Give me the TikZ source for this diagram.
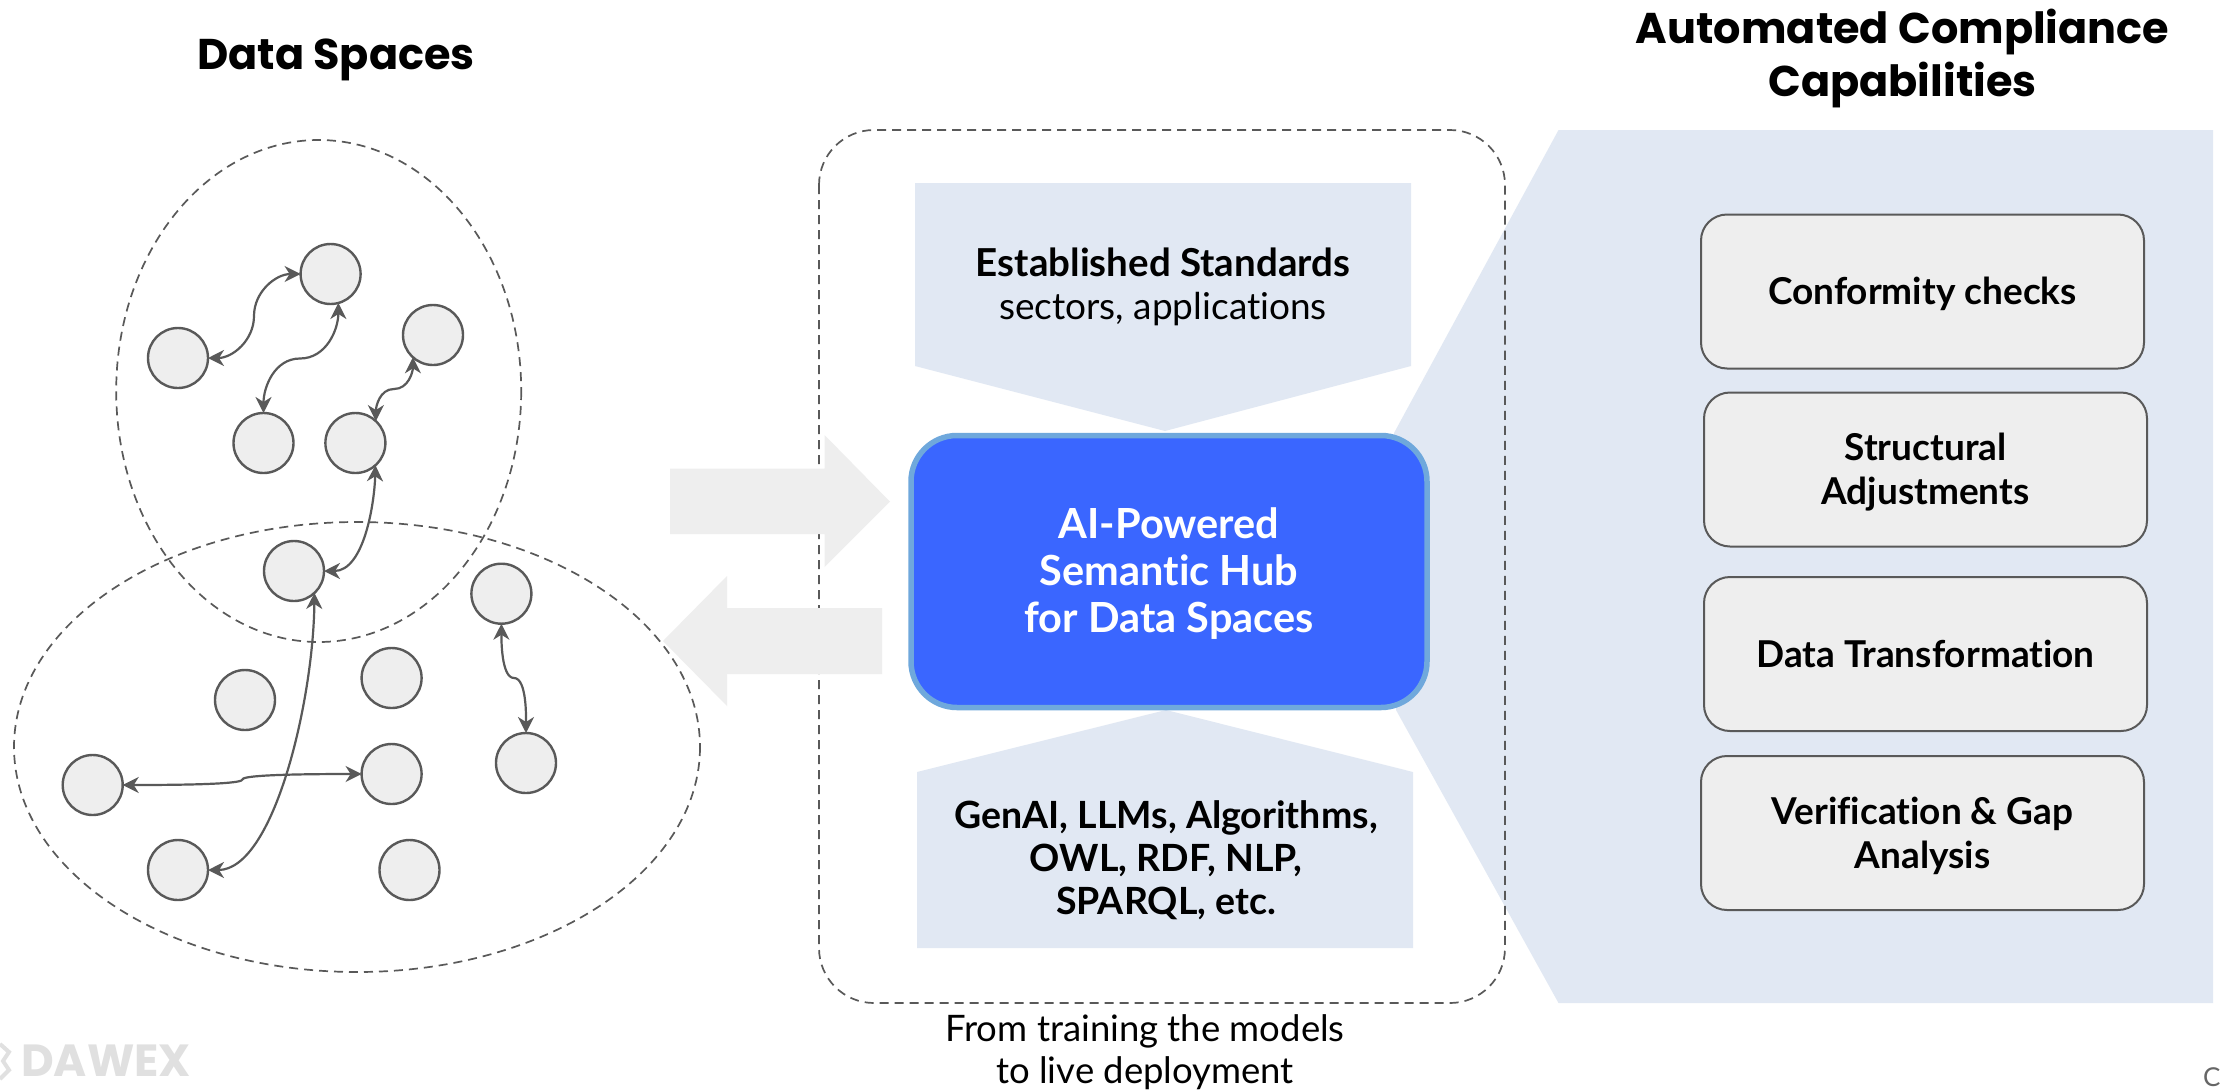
\documentclass[tikz,border=0pt]{standalone}
\usepackage{fontspec}
\setmainfont{Lato}[Ligatures=NoCommon]
\newfontfamily\titlefont{Poppins}
\usetikzlibrary{arrows.meta}
\definecolor{panel}{HTML}{E1E8F3}
\definecolor{lightgrey}{HTML}{EEEEEE}
\definecolor{linegrey}{HTML}{595959}
\definecolor{hubfill}{HTML}{3A66FF}
\definecolor{hubline}{HTML}{6FA8DC}
\definecolor{logogrey}{HTML}{E0E0E0}
\newcommand\topstrut{\rule{0pt}{33pt}}
\tikzset{
  x=1pt,y=-1pt,
  dot/.style={circle,draw=linegrey,fill=lightgrey,line width=2.4pt,minimum size=60pt,inner sep=0pt,outer sep=0pt},
  conn/.style={draw=linegrey,line width=2.2pt,{Stealth[length=16pt,width=16pt,inset=5pt]}-{Stealth[length=16pt,width=16pt,inset=5pt]}},
  dashline/.style={draw=linegrey,line width=1.7pt,dash pattern=on 9pt off 6pt},
  capbox/.style={draw=linegrey,fill=lightgrey,line width=2pt,rounded corners=26pt,minimum width=443pt,minimum height=154pt,inner sep=0pt,align=center,font=\fontsize{37}{44}\selectfont\bfseries},
  title/.style={align=center,font=\fontsize{43}{53}\selectfont\titlefont\bfseries,inner sep=0pt},
  body/.style={align=center,inner sep=0pt,font=\fontsize{37}{43}\selectfont},
  boldbody/.style={body,font=\fontsize{37.5}{43}\selectfont\bfseries},
}
\begin{document}
\begin{tikzpicture}
\useasboundingbox[fill=white] (0,0) rectangle (2221,1090);
% right panel
\fill[panel] (1558.5,130) -- (2213,130) -- (2213,1003) -- (1558.5,1003) -- (1396,710) -- (1394,433) -- cycle;
% dashed container
\draw[dashline,rounded corners=55pt] (819,130) rectangle (1505,1003);
% standards blocks
\fill[panel] (915,183) -- (1411,183) -- (1411,366) -- (1165,431) -- (915,366) -- cycle;
\fill[panel] (917,772) -- (1166,710) -- (1413,772) -- (1413,948) -- (917,948) -- cycle;
% big arrows
\fill[lightgrey] (670,468.5) -- (824.5,468.5) -- (824.5,435) -- (890,501.7) -- (824.5,567) -- (824.5,534) -- (670,534) -- cycle;
\fill[lightgrey] (882,608) -- (727,608) -- (727,576) -- (663,641) -- (727,706) -- (727,674) -- (882,674) -- cycle;
% ellipses
\draw[dashline] (318.7,391) ellipse [x radius=202.5,y radius=251];
\draw[dashline] (357,747) ellipse [x radius=343,y radius=225];
% circles
\node[dot] (A) at (330.6,274) {};
\node[dot] (B) at (178,358) {};
\node[dot] (C) at (433,335) {};
\node[dot] (D) at (263.5,443) {};
\node[dot] (E) at (355.4,443) {};
\node[dot] (F) at (294,571) {};
\node[dot] (G) at (501.4,593.7) {};
\node[dot] (H) at (245,700) {};
\node[dot] (I) at (391.6,678) {};
\node[dot] (J) at (391.6,774) {};
\node[dot] (K) at (526,763) {};
\node[dot] (L) at (92.7,785) {};
\node[dot] (M) at (178,870) {};
\node[dot] (N) at (409.5,870) {};
% connector bends
\coordinate (ab) at (254,316);
\coordinate (ad) at (300,358.5);
\coordinate (ce) at (394,389);
\coordinate (gk) at (514,678);
\coordinate (lj) at (242.4,779.5);
% connectors
\draw[conn] (A.180) to[out=180,in=90] (ab) to[out=-90,in=0] (B.0);
\draw[conn] (A.-75) to[out=-90,in=0] (ad) to[out=180,in=90] (D.90);
\draw[conn] (C.228) to[out=-90,in=0] (ce) to[out=180,in=90] (E.47);
\draw[conn] (E.-48) .. controls +(-1,38) and +(40,0) .. (F.0);
\draw[conn] (F.-47) .. controls +(-1,107) and +(66,0) .. (M.0);
\draw[conn] (G.-90) to[out=-90,in=180,looseness=0.6] (gk) to[out=0,in=90,looseness=0.6] (K.90);
\draw[conn] (L.0) .. controls +(95,0) and +(0,3) .. (lj) .. controls +(0,-3) and +(-95,0) .. (J.180);
% hub
\node[draw=hubline,fill=hubfill,line width=5.5pt,rounded corners=46pt,minimum width=516pt,minimum height=272pt,inner sep=0pt,outer sep=0pt,align=center,text=white,font=\fontsize{41.5}{47}\selectfont\bfseries] (hub) at (1169,571.5) {\rule{0pt}{34pt}AI-Powered\\Semantic Hub\\for Data Spaces};
% capability boxes
\node[capbox] (c1) at (1922.5,291.5) {\topstrut Conformity checks};
\node[capbox] (c2) at (1925.5,469.5) {\topstrut Structural\\Adjustments};
\node[capbox] (c3) at (1925.5,654) {Data Transformation};
\node[capbox] (c4) at (1922.5,833) {\topstrut Verification \& Gap\\Analysis};
% titles
\node[title] (t1) at (336,60) {Data Spaces};
\node[title] (t2) at (1902.5,58.5) {Automated Compliance\\Capabilities};
% text
\node[body] (std) at (1163,287) {{\fontsize{38.5}{43}\selectfont\bfseries Established Standards}\\sectors, applications};
\node[boldbody] (tech) at (1166,860) {GenAI, LLMs, Algorithms,\\OWL, RDF, NLP,\\SPARQL, etc.};
\node[body,text=black,font=\fontsize{36.5}{42}\selectfont] (live) at (1145,1052) {From training the models\\to live deployment};
% logo
\draw[logogrey,line width=4pt] (0,1044) -- (9,1052) -- (3,1061) -- (9,1070) -- (0,1079);
\node[inner sep=0pt,anchor=west,text=logogrey,font=\fontsize{45}{45}\selectfont\titlefont\bfseries] (logo) at (21,1061) {DAWEX};
\node[inner sep=0pt,anchor=base west,text=black!60,font=\fontsize{26}{26}\selectfont] (cmark) at (2203,1086) {C};
\end{tikzpicture}
\end{document}
